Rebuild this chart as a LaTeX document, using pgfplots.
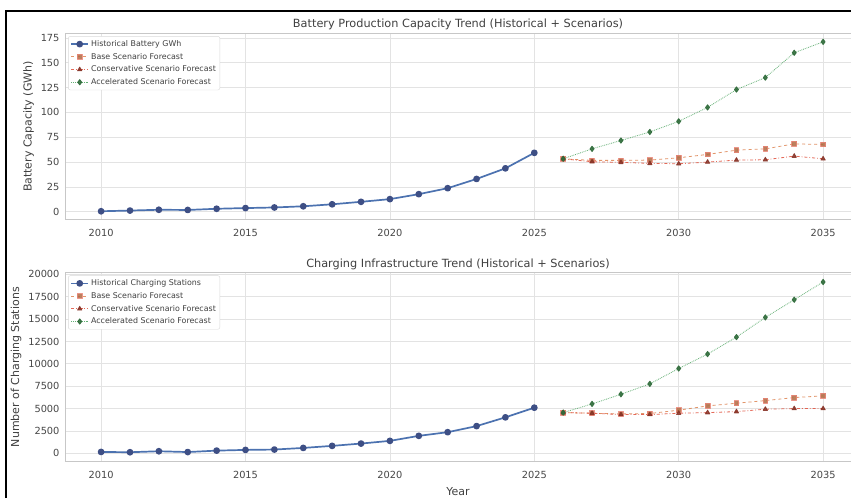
\documentclass[border=0pt]{standalone}
\usepackage{pgfplots}
\usepackage{pgfplotstable}
\usepackage{fontspec}
\setmainfont{DejaVu Sans}
\pgfplotsset{compat=1.18}

\definecolor{histblue}{HTML}{4C72B0}
\definecolor{histmark}{HTML}{3E4F85}
\definecolor{baseorange}{HTML}{DD8452}
\definecolor{consred}{HTML}{E0503C}
\definecolor{accgreen}{HTML}{55A868}
\definecolor{accmark}{HTML}{2F6B3A}

% Historical battery production capacity (GWh)
\pgfplotstableread{
year val
2010 0.5
2011 1.2
2012 2.0
2013 1.8
2014 3.0
2015 3.7
2016 4.3
2017 5.5
2018 7.5
2019 10.0
2020 12.7
2021 17.7
2022 23.7
2023 33.0
2024 43.7
2025 59.3
}\batthist

% Battery scenarios (GWh)
\pgfplotstableread{
year base cons accel
2026 53.3 53.3 53.3
2027 51.7 50.3 63.3
2028 51.7 49.7 71.7
2029 52.0 48.7 80.3
2030 54.3 48.3 91.0
2031 57.7 50.0 105.0
2032 62.0 52.0 123.0
2033 63.3 52.3 135.0
2034 68.3 56.0 160.0
2035 67.7 53.3 171.0
}\battfc

% Historical charging stations
\pgfplotstableread{
year val
2010 150
2011 120
2012 230
2013 140
2014 300
2015 380
2016 420
2017 600
2018 830
2019 1090
2020 1390
2021 1950
2022 2360
2023 3040
2024 4020
2025 5100
}\chghist

% Charging station scenarios
\pgfplotstableread{
year base cons accel
2026 4550 4550 4550
2027 4480 4480 5520
2028 4400 4330 6600
2029 4450 4330 7760
2030 4820 4480 9480
2031 5300 4550 11090
2032 5600 4660 12990
2033 5890 4930 15190
2034 6230 5000 17170
2035 6420 5000 19150
}\chgfc

\tikzset{spine/.style={black!22, line width=0.8pt}}

\pgfplotsset{
  trend/.style={
    scale only axis,
    width=786pt,
    xmin=2008.75, xmax=2035.966,
    xtick={2010,2015,...,2035},
    /pgf/number format/.cd, 1000 sep={}, assume math mode=true,
    /pgfplots/.cd,
    scaled ticks=false,
    grid=major,
    major grid style={black!11, line width=0.7pt},
    axis line style={draw=none},
    major tick length=0pt,
    tick label style={font=\fontsize{9.8}{11}\selectfont, text=black!72},
    xticklabel style={yshift=-6pt},
    yticklabel style={xshift=-2pt},
    label style={font=\fontsize{11}{13}\selectfont, text=black!75},
    title style={font=\fontsize{11.3}{13}\selectfont, text=black!75,
      at={(0.5,1)}, anchor=base, yshift=-0.5pt},
    legend cell align=left,
    legend style={at={(0.004,0.985)}, anchor=north west,
      font=\fontsize{7.9}{9}\selectfont, text=black!75,
      draw=black!15, rounded corners=2pt, fill=white,
      inner xsep=2pt, inner ysep=2pt, row sep=1.2pt},
    every axis plot/.append style={line join=round},
  },
  hist/.style={histblue, line width=1.7pt, mark=*,
    mark options={fill=histmark, draw=histmark, scale=1.25}},
  base/.style={baseorange, line width=0.8pt, dashed, opacity=0.85,
    mark=square*, mark options={solid, fill=baseorange!80!black, draw=consred!70, scale=1.2}},
  cons/.style={consred, line width=0.8pt, dash dot, opacity=0.85,
    mark=triangle*, mark options={solid, fill=consred!60!black, draw=consred!60!black, scale=1.25}},
  accel/.style={accgreen, line width=0.8pt, densely dotted, opacity=0.9,
    mark=diamond*, mark options={solid, fill=accmark, draw=accmark, scale=1.35}},
}

\begin{document}
\begin{tikzpicture}
\path[use as bounding box, clip] (0pt,0pt) rectangle (851pt,498pt);
\fill[white] (-2pt,-2pt) rectangle (853pt,500pt);

% Battery capacity
\begin{axis}[trend,
  at={(65pt,278.3pt)}, anchor=south west,
  height=186.3pt,
  ymin=-8, ymax=179.5,
  ytick={0,25,...,175},
  ylabel={Battery Capacity (GWh)},
  title={Battery Production Capacity Trend (Historical + Scenarios)},
]
\draw[spine] (rel axis cs:1,1) -- (rel axis cs:0,1) -- (rel axis cs:0,0) -- (rel axis cs:1,0);
\addplot[hist] table[x=year, y=val] {\batthist};
\addlegendentry{Historical Battery GWh}
\addplot[base] table[x=year, y=base] {\battfc};
\addlegendentry{Base Scenario Forecast}
\addplot[cons] table[x=year, y=cons] {\battfc};
\addlegendentry{Conservative Scenario Forecast}
\addplot[accel] table[x=year, y=accel] {\battfc};
\addlegendentry{Accelerated Scenario Forecast}
\end{axis}

% Charging stations
\begin{axis}[trend,
  at={(65pt,36.2pt)}, anchor=south west,
  height=189.2pt,
  ymin=-950, ymax=20200,
  ytick={0,2500,...,20000},
  ylabel={Number of Charging Stations},
  xlabel={Year},
  xlabel style={yshift=-2pt},
  title={Charging Infrastructure Trend (Historical + Scenarios)},
]
\draw[spine] (rel axis cs:1,1) -- (rel axis cs:0,1) -- (rel axis cs:0,0) -- (rel axis cs:1,0);
\addplot[hist] table[x=year, y=val] {\chghist};
\addlegendentry{Historical Charging Stations}
\addplot[base] table[x=year, y=base] {\chgfc};
\addlegendentry{Base Scenario Forecast}
\addplot[cons] table[x=year, y=cons] {\chgfc};
\addlegendentry{Conservative Scenario Forecast}
\addplot[accel] table[x=year, y=accel] {\chgfc};
\addlegendentry{Accelerated Scenario Forecast}
\end{axis}

% outer frame edges
\draw[black, line width=2pt] (6pt,0pt) -- (6pt,487pt) -- (851pt,487pt);
\end{tikzpicture}
\end{document}
